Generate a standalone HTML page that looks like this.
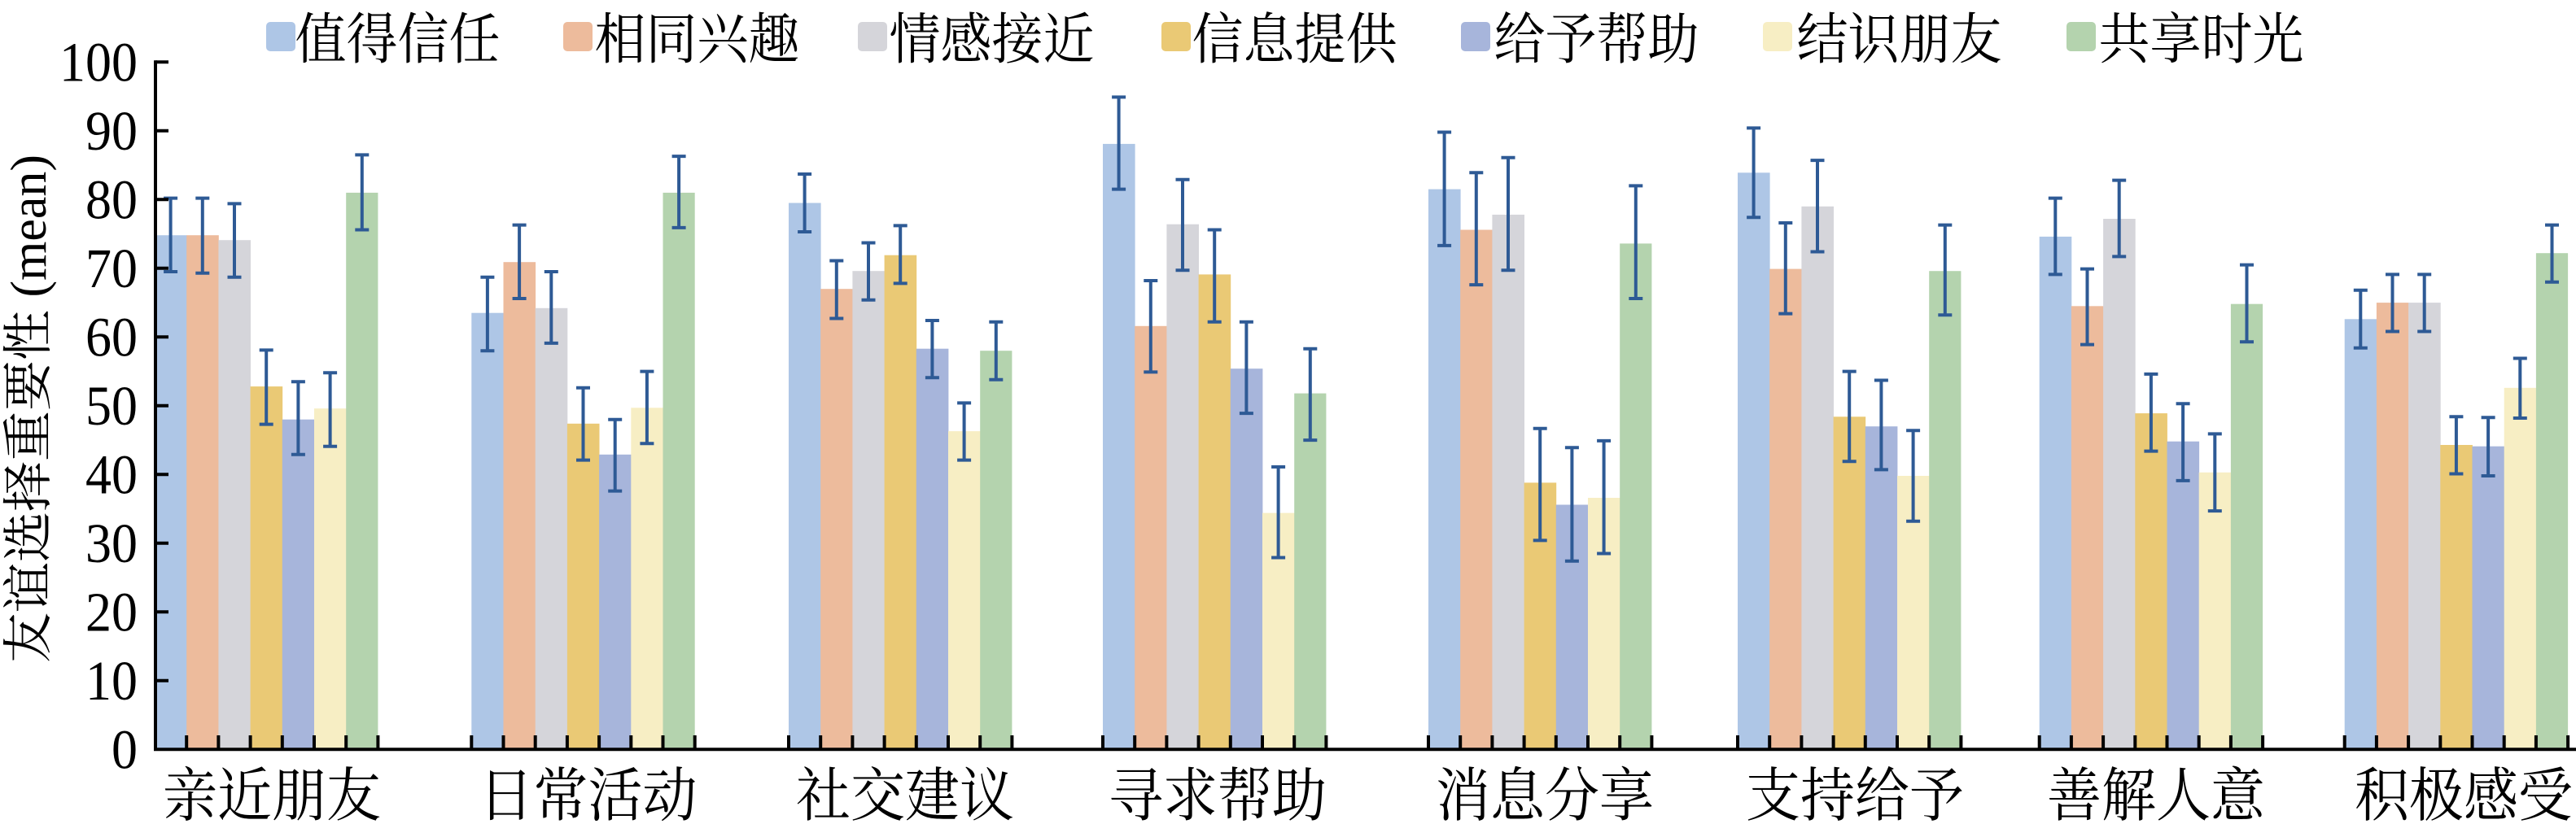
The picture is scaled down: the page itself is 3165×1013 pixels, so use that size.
<!DOCTYPE html>
<html>
<head>
<meta charset="utf-8">
<style>
html,body{margin:0;padding:0;background:#fff;}
svg{display:block;}
.b1{fill:#AEC6E6}.b2{fill:#EDBB9C}.b3{fill:#D5D5DA}.b4{fill:#EAC975}.b5{fill:#A7B5DB}.b6{fill:#F7EEC4}.b7{fill:#B4D3AE}
.e{stroke:#2E5A95;stroke-width:4;fill:none}
.tk{stroke:#000;stroke-width:4;fill:none}
.num{font-family:"Liberation Serif","Noto Serif CJK SC",serif;font-size:64px;fill:#000}
.cjk{font-family:"Liberation Serif","Noto Serif CJK SC",serif;fill:#000}
</style>
</head>
<body>
<svg width="3165" height="1013" viewBox="0 0 3165 1013" xmlns="http://www.w3.org/2000/svg">
<rect x="0" y="0" width="3165" height="1013" fill="#fff"/>

<!-- Legend -->
<g>
<rect class="b1" x="327" y="27" width="36" height="36" rx="5"/>
<rect class="b2" x="692" y="27" width="36" height="36" rx="5"/>
<rect class="b3" x="1054" y="27" width="36" height="36" rx="5"/>
<rect class="b4" x="1427" y="27" width="36" height="36" rx="5"/>
<rect class="b5" x="1795" y="27" width="36" height="36" rx="5"/>
<rect class="b6" x="2166" y="27" width="36" height="36" rx="5"/>
<rect class="b7" x="2539" y="27" width="36" height="36" rx="5"/>
<g class="cjk" font-size="63">
<text transform="translate(362.5,72.2) scale(1,1.08)">值得信任</text>
<text transform="translate(730.5,72.2) scale(1,1.08)">相同兴趣</text>
<text transform="translate(1092.5,72.2) scale(1,1.08)">情感接近</text>
<text transform="translate(1464.5,72.2) scale(1,1.08)">信息提供</text>
<text transform="translate(1835.5,72.2) scale(1,1.08)">给予帮助</text>
<text transform="translate(2207.5,72.2) scale(1,1.08)">结识朋友</text>
<text transform="translate(2578.5,72.2) scale(1,1.08)">共享时光</text>
</g>
</g>

<!-- Group 1 -->
<g transform="translate(190,0)">
<rect class="b1" x="0" y="289.2" width="39.6" height="632.8"/>
<rect class="b2" x="39.2" y="289.2" width="39.6" height="632.8"/>
<rect class="b3" x="78.4" y="295.2" width="39.6" height="626.8"/>
<rect class="b4" x="117.6" y="475.1" width="39.6" height="446.9"/>
<rect class="b5" x="156.8" y="515.7" width="39.6" height="406.3"/>
<rect class="b6" x="196" y="502.2" width="39.6" height="419.8"/>
<rect class="b7" x="235.2" y="236.9" width="39.2" height="685.1"/>
<path class="e" d="M19.6,243.6V334 M11.1,243.6h17 M11.1,334h17
M58.8,243.6V335.7 M50.3,243.6h17 M50.3,335.7h17
M98,250.4V340.8 M89.5,250.4h17 M89.5,340.8h17
M137.2,430.4V521.6 M128.7,430.4h17 M128.7,521.6h17
M176.4,469.2V558.8 M167.9,469.2h17 M167.9,558.8h17
M215.6,458.2V548.7 M207.1,458.2h17 M207.1,548.7h17
M254.8,190.4V282.5 M246.3,190.4h17 M246.3,282.5h17"/>
<path class="tk" d="M39.2,904V921 M78.4,904V921 M117.6,904V921 M156.8,904V921 M196,904V921 M235.2,904V921 M274.4,904V921"/>
</g>

<!-- Group 2 -->
<g transform="translate(579.3,0)">
<rect class="b1" x="0" y="384.7" width="39.6" height="537.3"/>
<rect class="b2" x="39.2" y="322.2" width="39.6" height="599.8"/>
<rect class="b3" x="78.4" y="378.8" width="39.6" height="543.2"/>
<rect class="b4" x="117.6" y="520.8" width="39.6" height="401.2"/>
<rect class="b5" x="156.8" y="558.8" width="39.6" height="363.2"/>
<rect class="b6" x="196" y="501.3" width="39.6" height="420.7"/>
<rect class="b7" x="235.2" y="236.9" width="39.2" height="685.1"/>
<path class="e" d="M19.6,340.8V431.2 M11.1,340.8h17 M11.1,431.2h17
M58.8,276.6V367 M50.3,276.6h17 M50.3,367h17
M98,334V421.9 M89.5,334h17 M89.5,421.9h17
M137.2,476.8V565.6 M128.7,476.8h17 M128.7,565.6h17
M176.4,515.7V603.6 M167.9,515.7h17 M167.9,603.6h17
M215.6,456.6V545.3 M207.1,456.6h17 M207.1,545.3h17
M254.8,192.1V279.9 M246.3,192.1h17 M246.3,279.9h17"/>
<path class="tk" d="M0,904V921 M39.2,904V921 M78.4,904V921 M117.6,904V921 M156.8,904V921 M196,904V921 M235.2,904V921 M274.4,904V921"/>
</g>

<!-- Group 3 -->
<g transform="translate(969,0)">
<rect class="b1" x="0" y="249.5" width="39.6" height="672.5"/>
<rect class="b2" x="39.2" y="355.2" width="39.6" height="566.8"/>
<rect class="b3" x="78.4" y="333.2" width="39.6" height="588.8"/>
<rect class="b4" x="117.6" y="313.7" width="39.6" height="608.3"/>
<rect class="b5" x="156.8" y="428.7" width="39.6" height="493.3"/>
<rect class="b6" x="196" y="530.1" width="39.6" height="391.9"/>
<rect class="b7" x="235.2" y="431.2" width="39.2" height="490.8"/>
<path class="e" d="M19.6,214V285 M11.1,214h17 M11.1,285h17
M58.8,320.5V391.5 M50.3,320.5h17 M50.3,391.5h17
M98,298.5V368.7 M89.5,298.5h17 M89.5,368.7h17
M137.2,277.4V348.4 M128.7,277.4h17 M128.7,348.4h17
M176.4,394V464.2 M167.9,394h17 M167.9,464.2h17
M215.6,495.4V565.6 M207.1,495.4h17 M207.1,565.6h17
M254.8,395.7V466.7 M246.3,395.7h17 M246.3,466.7h17"/>
<path class="tk" d="M0,904V921 M39.2,904V921 M78.4,904V921 M117.6,904V921 M156.8,904V921 M196,904V921 M235.2,904V921 M274.4,904V921"/>
</g>

<!-- Group 4 -->
<g transform="translate(1355,0)">
<rect class="b1" x="0" y="176.9" width="39.6" height="745.1"/>
<rect class="b2" x="39.2" y="400.8" width="39.6" height="521.2"/>
<rect class="b3" x="78.4" y="275.7" width="39.6" height="646.3"/>
<rect class="b4" x="117.6" y="337.4" width="39.6" height="584.6"/>
<rect class="b5" x="156.8" y="453.2" width="39.6" height="468.8"/>
<rect class="b6" x="196" y="630.6" width="39.6" height="291.4"/>
<rect class="b7" x="235.2" y="483.6" width="39.2" height="438.4"/>
<path class="e" d="M19.6,119.4V232.6 M11.1,119.4h17 M11.1,232.6h17
M58.8,345V457.4 M50.3,345h17 M50.3,457.4h17
M98,220.8V332.3 M89.5,220.8h17 M89.5,332.3h17
M137.2,282.5V395.7 M128.7,282.5h17 M128.7,395.7h17
M176.4,395.7V508.1 M167.9,395.7h17 M167.9,508.1h17
M215.6,574V685.5 M207.1,574h17 M207.1,685.5h17
M254.8,428.7V541.1 M246.3,428.7h17 M246.3,541.1h17"/>
<path class="tk" d="M0,904V921 M39.2,904V921 M78.4,904V921 M117.6,904V921 M156.8,904V921 M196,904V921 M235.2,904V921 M274.4,904V921"/>
</g>

<!-- Group 5 -->
<g transform="translate(1755,0)">
<rect class="b1" x="0" y="232.6" width="39.6" height="689.4"/>
<rect class="b2" x="39.2" y="282.5" width="39.6" height="639.5"/>
<rect class="b3" x="78.4" y="263.9" width="39.6" height="658.1"/>
<rect class="b4" x="117.6" y="593.4" width="39.6" height="328.6"/>
<rect class="b5" x="156.8" y="620.5" width="39.6" height="301.5"/>
<rect class="b6" x="196" y="612" width="39.6" height="310"/>
<rect class="b7" x="235.2" y="299.4" width="39.2" height="622.6"/>
<path class="e" d="M19.6,162.5V301.9 M11.1,162.5h17 M11.1,301.9h17
M58.8,212.3V350.1 M50.3,212.3h17 M50.3,350.1h17
M98,193.8V332.3 M89.5,193.8h17 M89.5,332.3h17
M137.2,526.7V664.4 M128.7,526.7h17 M128.7,664.4h17
M176.4,550.3V689.8 M167.9,550.3h17 M167.9,689.8h17
M215.6,541.9V680.5 M207.1,541.9h17 M207.1,680.5h17
M254.8,228.4V367 M246.3,228.4h17 M246.3,367h17"/>
<path class="tk" d="M0,904V921 M39.2,904V921 M78.4,904V921 M117.6,904V921 M156.8,904V921 M196,904V921 M235.2,904V921 M274.4,904V921"/>
</g>

<!-- Group 6 -->
<g transform="translate(2135,0)">
<rect class="b1" x="0" y="212.3" width="39.6" height="709.7"/>
<rect class="b2" x="39.2" y="330.6" width="39.6" height="591.4"/>
<rect class="b3" x="78.4" y="253.8" width="39.6" height="668.2"/>
<rect class="b4" x="117.6" y="512.3" width="39.6" height="409.7"/>
<rect class="b5" x="156.8" y="524.2" width="39.6" height="397.8"/>
<rect class="b6" x="196" y="585" width="39.6" height="337"/>
<rect class="b7" x="235.2" y="333.2" width="39.2" height="588.8"/>
<path class="e" d="M19.6,157.4V267.3 M11.1,157.4h17 M11.1,267.3h17
M58.8,274V385.6 M50.3,274h17 M50.3,385.6h17
M98,197.1V309.5 M89.5,197.1h17 M89.5,309.5h17
M137.2,456.6V567.2 M128.7,456.6h17 M128.7,567.2h17
M176.4,467.5V577.4 M167.9,467.5h17 M167.9,577.4h17
M215.6,529.2V640.8 M207.1,529.2h17 M207.1,640.8h17
M254.8,276.6V387.3 M246.3,276.6h17 M246.3,387.3h17"/>
<path class="tk" d="M0,904V921 M39.2,904V921 M78.4,904V921 M117.6,904V921 M156.8,904V921 M196,904V921 M235.2,904V921 M274.4,904V921"/>
</g>

<!-- Group 7 -->
<g transform="translate(2505.7,0)">
<rect class="b1" x="0" y="290.9" width="39.6" height="631.1"/>
<rect class="b2" x="39.2" y="376.3" width="39.6" height="545.7"/>
<rect class="b3" x="78.4" y="269" width="39.6" height="653"/>
<rect class="b4" x="117.6" y="508.1" width="39.6" height="413.9"/>
<rect class="b5" x="156.8" y="542.7" width="39.6" height="379.3"/>
<rect class="b6" x="196" y="580.8" width="39.6" height="341.2"/>
<rect class="b7" x="235.2" y="373.7" width="39.2" height="548.3"/>
<path class="e" d="M19.6,243.6V337.4 M11.1,243.6h17 M11.1,337.4h17
M58.8,330.6V423.6 M50.3,330.6h17 M50.3,423.6h17
M98,221.6V315.4 M89.5,221.6h17 M89.5,315.4h17
M137.2,459.9V554.6 M128.7,459.9h17 M128.7,554.6h17
M176.4,496.3V590.9 M167.9,496.3h17 M167.9,590.9h17
M215.6,533.4V628.1 M207.1,533.4h17 M207.1,628.1h17
M254.8,325.6V420.2 M246.3,325.6h17 M246.3,420.2h17"/>
<path class="tk" d="M0,904V921 M39.2,904V921 M78.4,904V921 M117.6,904V921 M156.8,904V921 M196,904V921 M235.2,904V921 M274.4,904V921"/>
</g>

<!-- Group 8 -->
<g transform="translate(2880.7,0)">
<rect class="b1" x="0" y="392.3" width="39.6" height="529.7"/>
<rect class="b2" x="39.2" y="372.1" width="39.6" height="549.9"/>
<rect class="b3" x="78.4" y="372.1" width="39.6" height="549.9"/>
<rect class="b4" x="117.6" y="547" width="39.6" height="375"/>
<rect class="b5" x="156.8" y="548.7" width="39.6" height="373.3"/>
<rect class="b6" x="196" y="476.8" width="39.6" height="445.2"/>
<rect class="b7" x="235.2" y="311.2" width="39.2" height="610.8"/>
<path class="e" d="M19.6,356.8V427.8 M11.1,356.8h17 M11.1,427.8h17
M58.8,337.4V407.5 M50.3,337.4h17 M50.3,407.5h17
M98,337.4V407.5 M89.5,337.4h17 M89.5,407.5h17
M137.2,512.3V582.5 M128.7,512.3h17 M128.7,582.5h17
M176.4,513.2V585 M167.9,513.2h17 M167.9,585h17
M215.6,440.5V514 M207.1,440.5h17 M207.1,514h17
M254.8,276.6V346.7 M246.3,276.6h17 M246.3,346.7h17"/>
<path class="tk" d="M0,904V921 M39.2,904V921 M78.4,904V921 M117.6,904V921 M156.8,904V921 M196,904V921 M235.2,904V921 M274.4,904V921"/>
</g>

<!-- Axes -->
<path class="tk" d="M191,74.3V923.3 M189,921.3H3165"/>
<path class="tk" d="M191,76.3H207 M191,160.8H207 M191,245.3H207 M191,329.8H207 M191,414.3H207 M191,498.8H207 M191,583.3H207 M191,667.8H207 M191,752.3H207 M191,836.8H207"/>

<!-- Y tick labels -->
<g class="num" text-anchor="end">
<text transform="translate(169,76.3) scale(1,1.07)" y="21.6">100</text>
<text transform="translate(169,160.8) scale(1,1.07)" y="21.6">90</text>
<text transform="translate(169,245.3) scale(1,1.07)" y="21.6">80</text>
<text transform="translate(169,329.8) scale(1,1.07)" y="21.6">70</text>
<text transform="translate(169,414.3) scale(1,1.07)" y="21.6">60</text>
<text transform="translate(169,498.8) scale(1,1.07)" y="21.6">50</text>
<text transform="translate(169,583.3) scale(1,1.07)" y="21.6">40</text>
<text transform="translate(169,667.8) scale(1,1.07)" y="21.6">30</text>
<text transform="translate(169,752.3) scale(1,1.07)" y="21.6">20</text>
<text transform="translate(169,836.8) scale(1,1.07)" y="21.6">10</text>
<text transform="translate(169,921.3) scale(1,1.07)" y="21.6">0</text>
</g>

<!-- Y axis title -->
<text class="cjk" font-size="62" text-anchor="middle" transform="translate(56,502.5) rotate(-90)">友谊选择重要性 (mean)</text>

<!-- X labels -->
<g class="cjk" font-size="67" text-anchor="middle">
<text transform="translate(334,1003) scale(1,1.08)">亲近朋友</text>
<text transform="translate(722.5,1003) scale(1,1.08)">日常活动</text>
<text transform="translate(1112,1003) scale(1,1.08)">社交建议</text>
<text transform="translate(1496,1003) scale(1,1.08)">寻求帮助</text>
<text transform="translate(1898,1003) scale(1,1.08)">消息分享</text>
<text transform="translate(2279,1003) scale(1,1.08)">支持给予</text>
<text transform="translate(2649,1003) scale(1,1.08)">善解人意</text>
<text transform="translate(3027,1003) scale(1,1.08)">积极感受</text>
</g>
</svg>
</body>
</html>
